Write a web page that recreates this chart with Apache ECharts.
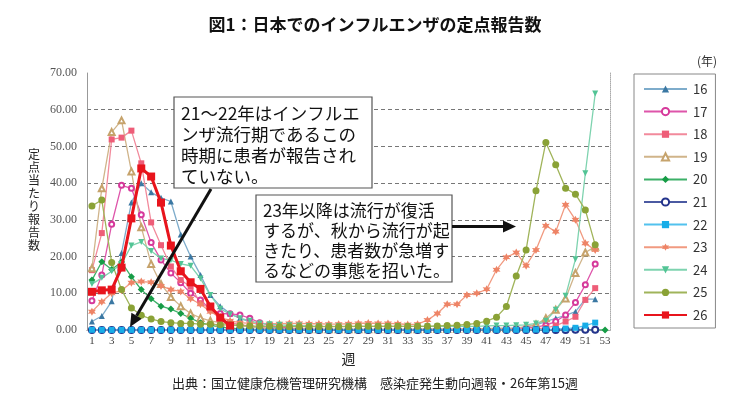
<!DOCTYPE html>
<html>
<head>
<meta charset="utf-8">
<script src="https://cdn.jsdelivr.net/npm/echarts@6/dist/echarts.min.js"></script>
<style>
html,body{margin:0;padding:0;background:#fff;}
#c{width:750px;height:406px;}
</style>
</head>
<body>
<div id="c"></div>
<script>
// ---- data ----
var weeks = [];
for (var i = 1; i <= 53; i++) weeks.push(String(i));
var yTicks = [0, 10, 20, 30, 40, 50, 60, 70];
var years = ['16','17','18','19','20','21','22','23','24','25','26'];

var d16 = [2.3,3.8,7.8,21,34.7,40,37.5,36,35,26,20,15,9.5,6.5,4.5,3.2,2.2,1.3,0.8,0.6,0.4,0.3,0.2,0.15,0.1,0.1,0.1,0.1,0.1,0.1,0.1,0.1,0.1,0.1,0.1,0.1,0.1,0.1,0.1,0.1,0.15,0.2,0.3,0.5,0.8,1.4,2.3,3.2,4.0,5.0,8.4,8.4];
var d17 = [8,15,28.8,39.4,38.6,31.4,23.8,19.1,15.5,12.9,10,8.2,5.6,4.5,4.4,4.1,3.2,2.0,1.3,0.8,0.5,0.3,0.2,0.15,0.1,0.1,0.1,0.1,0.1,0.1,0.1,0.1,0.1,0.1,0.1,0.1,0.1,0.1,0.1,0.1,0.15,0.2,0.25,0.3,0.5,0.8,1.3,2.3,4.1,7.5,12.3,18.0];
var d18 = [16.3,26.4,51.9,52.4,54.3,45.4,29.3,23.1,17.3,13.6,11.8,7.3,5.9,2.7,2.0,1.5,1.0,0.7,0.5,0.3,0.2,0.15,0.1,0.1,0.1,0.1,0.1,0.1,0.1,0.1,0.1,0.1,0.1,0.1,0.1,0.1,0.1,0.1,0.1,0.1,0.1,0.15,0.2,0.2,0.25,0.3,0.6,1.2,2.3,3.6,8.2,11.4];
var d19 = [16.8,38.6,53.9,57.1,43.2,28.0,18.0,12.5,9.0,6.5,4.5,3.3,2.5,2.0,1.5,1.2,0.9,0.6,0.4,0.3,0.3,0.2,0.2,0.2,0.2,0.2,0.2,0.2,0.2,0.2,0.2,0.2,0.2,0.2,0.3,0.3,0.3,0.3,0.4,0.4,0.4,0.5,0.5,0.6,0.9,1.5,3.2,5.5,8.6,15.5,21.1,22.7];
var d20 = [13.6,18.6,16.5,18.5,14.5,11.0,8.5,6.5,5.7,4.5,3.2,2.0,1.3,0.8,0.5,0.3,0.2,0.1,0.05,0.03,0.02,0.02,0.02,0.02,0.02,0.02,0.02,0.02,0.02,0.02,0.02,0.02,0.02,0.02,0.02,0.02,0.02,0.02,0.02,0.02,0.02,0.02,0.02,0.02,0.02,0.02,0.02,0.02,0.02,0.02,0.02,0.02,0.02];
var d21 = [0.02,0.02,0.02,0.02,0.02,0.02,0.02,0.02,0.02,0.02,0.02,0.02,0.02,0.02,0.02,0.02,0.02,0.01,0.01,0.01,0.01,0.01,0.01,0.01,0.01,0.01,0.01,0.01,0.01,0.01,0.01,0.01,0.01,0.01,0.01,0.01,0.01,0.01,0.01,0.01,0.01,0.01,0.01,0.01,0.01,0.01,0.01,0.02,0.03,0.05,0.05,0.05];
var d22 = [0.05,0.03,0.02,0.02,0.02,0.02,0.02,0.02,0.02,0.02,0.02,0.02,0.02,0.02,0.02,0.02,0.02,0.02,0.02,0.02,0.02,0.02,0.02,0.02,0.02,0.02,0.02,0.02,0.02,0.02,0.02,0.02,0.02,0.02,0.02,0.02,0.02,0.02,0.03,0.03,0.04,0.05,0.05,0.06,0.08,0.1,0.15,0.25,0.4,0.6,1.2,2.0];
var d23 = [5.0,7.7,10.0,10.8,12.9,13.2,13.0,12.0,11.0,10.5,8.5,7.0,5.0,3.5,2.5,2.0,1.8,1.8,1.7,1.7,1.8,1.8,1.7,1.7,1.6,1.6,1.7,1.8,1.9,1.8,1.8,1.7,1.5,1.6,2.7,4.5,7.0,7.0,9.5,10.0,11.1,16.4,19.8,21.1,17.5,21.8,28.4,26.8,34.1,30.0,23.6,21.8];
var d24 = [12.5,14.2,16.0,18.0,23.0,24.0,21.5,19.5,19.0,18.0,17.5,14.0,9.5,5.8,4.3,3.2,2.5,1.8,1.6,1.4,1.3,1.2,1.1,1.0,1.0,1.0,1.0,1.0,1.0,1.0,1.0,1.0,1.0,1.0,1.0,1.0,1.0,1.0,1.0,1.0,1.1,1.2,1.2,1.3,1.4,1.8,2.5,5.5,9.3,19.3,42.7,64.4];
var d25 = [33.8,35.4,18.4,11.0,6.0,4.0,3.0,2.3,2.0,1.8,1.8,1.6,1.6,1.4,1.4,1.2,1.1,1.0,1.0,0.9,0.9,0.9,0.9,0.9,0.9,0.9,0.9,1.0,1.0,1.0,1.0,1.0,1.0,1.0,1.0,1.1,1.2,1.3,1.5,1.8,2.4,3.5,6.4,14.7,21.8,37.9,51.1,45.0,38.6,37.0,32.7,23.2];
var d26 = [10.4,10.8,11.0,17.0,30.4,44.0,41.8,34.7,23.0,16.0,13.0,11.2,6.4,3.4,1.2];

var seriesData = {'16':d16,'17':d17,'18':d18,'19':d19,'20':d20,'21':d21,'22':d22,'23':d23,'24':d24,'25':d25,'26':d26};

var starPath = 'path://M0,-10 L2.6,-4.5 L8.7,-5 L5.2,0 L8.7,5 L2.6,4.5 L0,10 L-2.6,4.5 L-8.7,5 L-5.2,0 L-8.7,-5 L-2.6,-4.5 Z';
var styles = {
  '16': {sym:'triangle', size:6, color:'#3b78a3', line:'#7eaccb', lw:1.3},
  '17': {sym:'emptyCircle', size:5, color:'#d6399b', line:'#de55aa', lw:1.3},
  '18': {sym:'rect', size:6, color:'#ee5d78', line:'#f28a9c', lw:1.3},
  '19': {sym:'emptyTriangle', size:6, color:'#c6a36c', line:'#d0b48a', lw:1.3},
  '20': {sym:'diamond', size:7, color:'#169c46', line:'#3cb068', lw:1.3},
  '21': {sym:'emptyCircle', size:6, color:'#24348c', line:'#4b5aa2', lw:1.3},
  '22': {sym:'rect', size:6, color:'#17ade8', line:'#52c2ee', lw:1.3},
  '23': {sym:starPath, size:8, color:'#ee8466', line:'#f19a80', lw:1.3},
  '24': {sym:'triangle', size:6, color:'#52c495', line:'#7ed3af', lw:1.3, rot:180},
  '25': {sym:'circle', size:7, color:'#8aa236', line:'#a0b45a', lw:1.3},
  '26': {sym:'rect', size:8, color:'#e8141c', line:'#e8141c', lw:3}
};

var series = years.map(function (y) {
  var s = styles[y];
  return {
    name: y,
    type: 'line',
    data: seriesData[y],
    symbol: s.sym,
    symbolSize: s.size,
    symbolRotate: s.rot || 0,
    showAllSymbol: true,
    lineStyle: {color: s.line, width: s.lw},
    itemStyle: {color: s.color, borderColor: s.color, borderWidth: s.sym.indexOf('empty') === 0 ? 1.2 : 0},
    emphasis: {disabled: true},
    animation: false,
    z: y === '26' ? 5 : 2
  };
});

var jp = '"Noto Sans CJK JP", "Noto Sans", sans-serif';
var serif = '"Liberation Serif", "DejaVu Serif", serif';

function arrowHead(tip, from, len, half) {
  var dx = tip[0] - from[0], dy = tip[1] - from[1];
  var L = Math.sqrt(dx * dx + dy * dy);
  var ux = dx / L, uy = dy / L;
  var bx = tip[0] - ux * len, by = tip[1] - uy * len;
  var nx = -uy, ny = ux;
  return {base: [bx, by], pts: [tip, [bx + nx * half, by + ny * half], [bx - nx * half, by - ny * half]]};
}
var a1 = arrowHead([130, 327], [211, 189], 13, 6);
var a2 = arrowHead([516, 226.5], [452, 226.5], 13, 6);

var chart = echarts.init(document.getElementById('c'), null, {renderer: 'canvas'});
chart.setOption({
  animation: false,
  backgroundColor: '#fff',
  title: {
    text: '図1：日本でのインフルエンザの定点報告数',
    left: 'center', top: 11,
    textStyle: {fontFamily: jp, fontSize: 17, fontWeight: 'bold', color: '#111'}
  },
  grid: {left: 87, right: 140, top: 73, bottom: 76, containLabel: false},
  legend: {
    orient: 'vertical',
    left: 634, top: 74,
    data: years,
    itemWidth: 43, itemHeight: 9, itemGap: 9.6,
    padding: [8.5, 8, 6.5, 9],
    borderColor: '#888', borderWidth: 1, backgroundColor: '#fff',
    textStyle: {fontFamily: jp, fontSize: 13, lineHeight: 13, color: '#333', padding: [0, 0, 0, 1]},
    selectedMode: false
  },
  xAxis: [{
    type: 'category',
    data: weeks,
    boundaryGap: true,
    name: '週', nameLocation: 'middle', nameGap: 22,
    nameTextStyle: {fontFamily: jp, fontSize: 14, color: '#222'},
    axisLine: {show: true, lineStyle: {color: '#999', width: 1}},
    axisTick: {show: false},
    axisLabel: {interval: 1, fontFamily: serif, fontSize: 11, color: '#444', margin: 6},
    splitLine: {show: false}
  }, {
    type: 'category',
    data: weeks,
    position: 'top',
    axisLine: {show: true, lineStyle: {color: '#aaa', type: 'dotted', width: 1}},
    axisTick: {show: false}, axisLabel: {show: false}, splitLine: {show: false}
  }],
  yAxis: [{
    type: 'value',
    min: yTicks[0], max: yTicks[yTicks.length - 1], interval: 10,
    axisLine: {show: true, lineStyle: {color: '#999', width: 1}},
    axisTick: {show: false},
    axisLabel: {
      fontFamily: serif, fontSize: 12, color: '#555', margin: 10, padding: [6, 0, 0, 0],
      formatter: function (v) { return v.toFixed(2); }
    },
    splitLine: {show: true, showMinLine: false, showMaxLine: false, lineStyle: {color: '#777', type: [4, 3], width: 1}}
  }, {
    type: 'value',
    min: yTicks[0], max: yTicks[yTicks.length - 1], interval: 10,
    position: 'right',
    axisLine: {show: true, lineStyle: {color: '#aaa', type: 'dotted', width: 1}},
    axisTick: {show: false}, axisLabel: {show: false}, splitLine: {show: false}
  }],
  series: series,
  graphic: [
    {type: 'text', left: 697, top: 55, style: {text: '(年)', fontFamily: jp, fontSize: 12, fill: '#333'}},
    // y-axis title (vertical)
    {type: 'text', x: 34, y: 148, style: {
      text: '定\n点\n当\nた\nり\n報\n告\n数', fontFamily: jp, fontSize: 12, lineHeight: 13,
      fill: '#222', align: 'center', verticalAlign: 'top'}},
    // annotation 1
    {type: 'rect', shape: {x: 174, y: 97, width: 198, height: 91}, style: {fill: '#fff', stroke: '#555', lineWidth: 1.2}, z: 10},
    {type: 'text', x: 181, y: 103, z: 11, style: {
      text: '21～22年はインフルエ\nンザ流行期であるこの\n時期に患者が報告され\nていない。',
      fontFamily: jp, fontSize: 17.5, lineHeight: 21, fill: '#111'}},
    // annotation 2
    {type: 'rect', shape: {x: 256, y: 195, width: 196, height: 87}, style: {fill: '#fff', stroke: '#555', lineWidth: 1.2}, z: 10},
    {type: 'text', x: 263, y: 201, z: 11, style: {
      text: '23年以降は流行が復活\nするが、秋から流行が起\nきたり、患者数が急増す\nるなどの事態を招いた。',
      fontFamily: jp, fontSize: 17, lineHeight: 20, fill: '#111'}},
    // arrow 1
    {type: 'line', z: 12, shape: {x1: 211, y1: 189, x2: a1.base[0], y2: a1.base[1]}, style: {stroke: '#111', lineWidth: 3}},
    {type: 'polygon', z: 12, shape: {points: a1.pts}, style: {fill: '#111'}},
    // arrow 2
    {type: 'line', z: 12, shape: {x1: 452, y1: 226.5, x2: a2.base[0], y2: a2.base[1]}, style: {stroke: '#111', lineWidth: 3}},
    {type: 'polygon', z: 12, shape: {points: a2.pts}, style: {fill: '#111'}},
    // source
    {type: 'text', left: 'center', top: 377, style: {
      text: '出典：国立健康危機管理研究機構　感染症発生動向週報・26年第15週',
      fontFamily: jp, fontSize: 13, fill: '#222'}}
  ]
});
</script>
</body>
</html>
